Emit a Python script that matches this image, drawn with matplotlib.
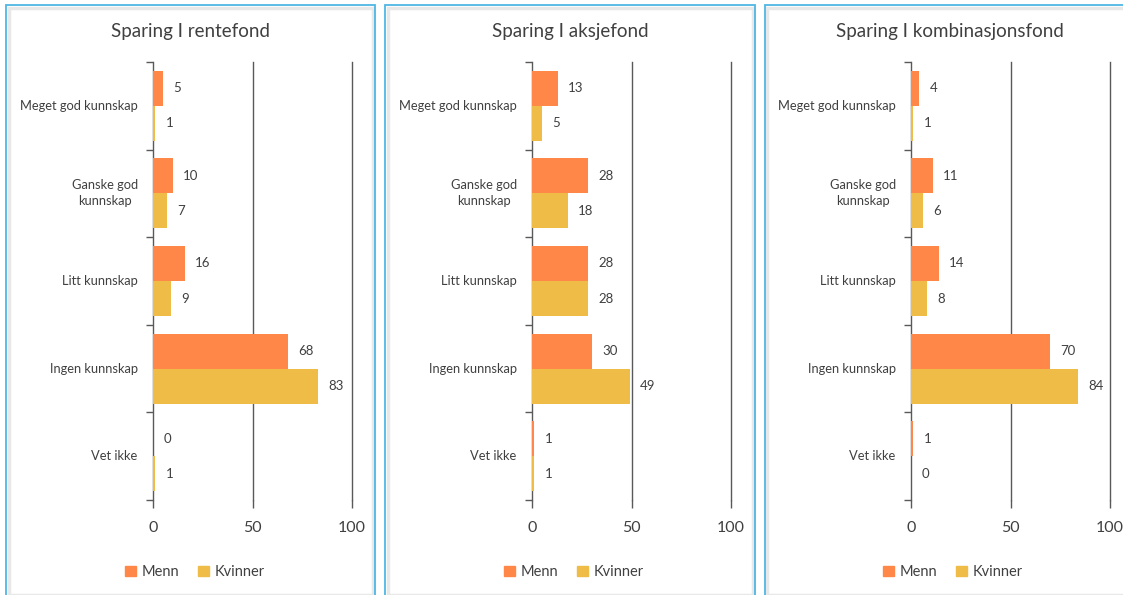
import matplotlib
matplotlib.use("Agg")
import matplotlib.pyplot as plt
from matplotlib.patches import Rectangle, Patch

plt.rcParams['font.family'] = ['Lato', 'DejaVu Sans']

categories = ["Meget god kunnskap", "Ganske god\nkunnskap", "Litt kunnskap",
              "Ingen kunnskap", "Vet ikke"]
titles = ["Sparing I rentefond", "Sparing I aksjefond", "Sparing I kombinasjonsfond"]
menn = [
    [5, 10, 16, 68, 0],
    [13, 28, 28, 30, 1],
    [4, 11, 14, 70, 1],
]
kvinner = [
    [1, 7, 9, 83, 1],
    [5, 18, 28, 49, 1],
    [1, 6, 8, 84, 0],
]
series_names = ["Menn", "Kvinner"]
x_ticks = [0, 50, 100]

C_MENN = "#FF8747"
C_KVIN = "#EEBC47"
TXT = "#404040"
BORDER = "#4FB6E3"
GRID = "#595959"

W, H = 1123, 595
fig = plt.figure(figsize=(W / 100, H / 100), dpi=100)
fig.patch.set_facecolor("white")


def px_rect(x0, y0, x1, y1):
    return [x0 / W, 1 - y1 / H, (x1 - x0) / W, (y1 - y0) / H]


panel_x = [(6, 375), (385, 755), (765, 1134)]
axes_x = [(153, 352), (532, 731), (911, 1110)]

for i in range(3):
    px0, px1 = panel_x[i]
    fig.patches.append(Rectangle((px0 / W + 2.5 / W, 0), (px1 - px0 - 5) / W, (H - 8) / H,
                                 transform=fig.transFigure, fill=False,
                                 edgecolor="#E8E8E8", linewidth=2.5, zorder=0))
    fig.patches.append(Rectangle((px0 / W, -0.01), (px1 - px0) / W, (H - 5) / H + 0.01,
                                 transform=fig.transFigure, fill=False,
                                 edgecolor=BORDER, linewidth=1.3, zorder=1))

    ax0, ax1 = axes_x[i]
    ax = fig.add_axes(px_rect(ax0, 62, ax1, 500))
    n = len(categories)
    ypos = list(range(n))
    h = 0.4
    ym = [y - h / 2 for y in ypos]
    yk = [y + h / 2 for y in ypos]
    ax.barh(ym, menn[i], height=h, color=C_MENN, zorder=3, label=series_names[0])
    ax.barh(yk, kvinner[i], height=h, color=C_KVIN, zorder=3, label=series_names[1])
    for y, v in zip(ym, menn[i]):
        ax.annotate(str(v), (v, y), xytext=(7.5, 0), textcoords="offset points",
                    va="center", ha="left", fontsize=9.5, color=TXT)
    for y, v in zip(yk, kvinner[i]):
        ax.annotate(str(v), (v, y), xytext=(7.5, 0), textcoords="offset points",
                    va="center", ha="left", fontsize=9.5, color=TXT)

    ax.set_xlim(0, 100)
    ax.set_ylim(n - 0.5, -0.5)
    ax.set_xticks(x_ticks)
    ax.set_xticklabels([str(t) for t in x_ticks], fontsize=11.5, color=TXT)
    for t in x_ticks[1:]:
        ax.axvline(t, color=GRID, linewidth=1.0, zorder=1, clip_on=False)
    ax.tick_params(axis="x", length=6, width=1.0, color=GRID, pad=9)
    ax.set_yticks([k - 0.5 for k in range(n + 1)])
    ax.set_yticklabels([])
    ax.tick_params(axis="y", which="major", length=5, width=1.0, color=GRID)
    for s in ["top", "right", "bottom"]:
        ax.spines[s].set_visible(False)
    ax.spines["left"].set_color(GRID)
    ax.spines["left"].set_linewidth(1.0)
    ax.set_facecolor("none")

    for y, c in zip(ypos, categories):
        ax.annotate(c, (0, y), xytext=(-11, 0), textcoords="offset points",
                    ha="right", va="center", fontsize=9.3, color=TXT,
                    multialignment="center", annotation_clip=False,
                    linespacing=1.4)

    cx = (px0 + px1) / 2
    fig.text(cx / W, 1 - 31 / H, titles[i], ha="center", va="center",
             fontsize=13.5, color=TXT)

    handles = [Patch(color=C_MENN), Patch(color=C_KVIN)]
    fig.legend(handles, series_names, loc="center",
               bbox_to_anchor=((axes_x[i][0] + 42) / W, 1 - 572 / H),
               ncol=2, frameon=False, fontsize=10.5, handlelength=0.75,
               handleheight=0.75, handletextpad=0.4, columnspacing=1.3,
               labelcolor=TXT)

fig.savefig("out.png", dpi=100, facecolor="white")
